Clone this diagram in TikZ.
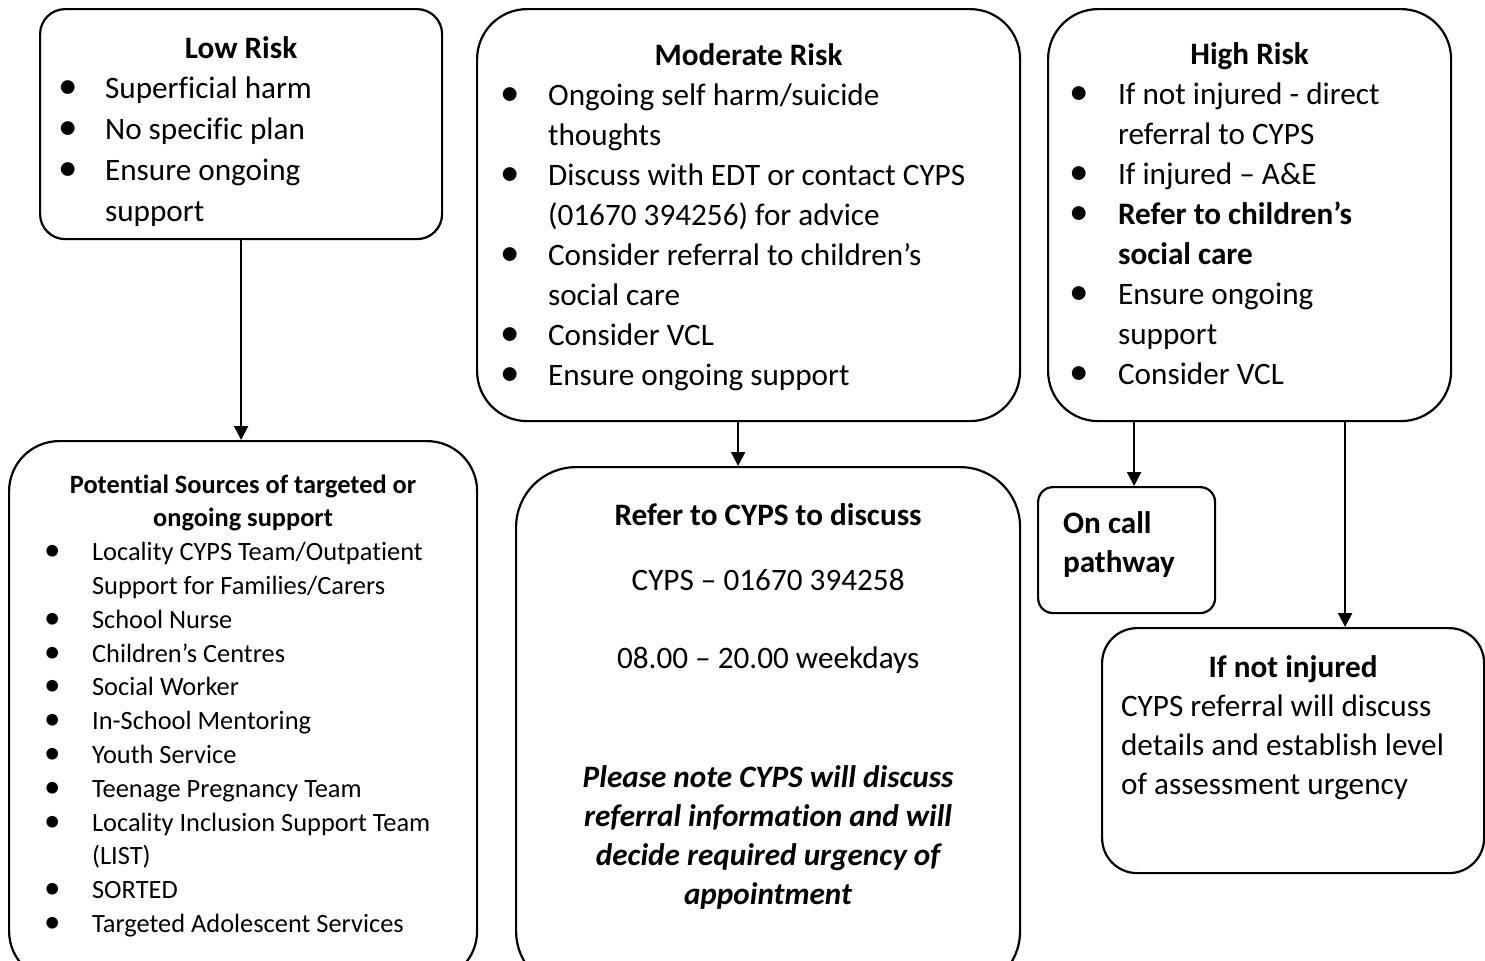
\documentclass[tikz,border=0pt]{standalone}
\usepackage{fontspec}
\setmainfont[Ligatures=NoCommon]{Carlito}
\usetikzlibrary{arrows.meta}

\newlength{\bulind}
\newcommand{\bulletmark}{\scalebox{1.25}{\textbullet}}
\newcommand{\bitem}[1]{\par\noindent\hangindent=\bulind\hangafter=1\makebox[\bulind][l]{\bulletmark}#1}
\newcommand{\boxbody}[4]{\begin{minipage}[t][#2][t]{#1}\raggedright\leftskip=#3\relax#4\end{minipage}}

\tikzset{
	riskbox/.style={draw, line width=1.1pt, rounded corners=#1, inner sep=0pt, anchor=north west},
	riskbox/.default=25pt,
	flowarrow/.style={line width=1.1pt, -{Triangle[length=7pt,width=7pt]}}
}

\begin{document}
\begin{tikzpicture}[x=0.5pt, y=-0.5pt, font=\fontsize{15.6}{20}\selectfont]
		\useasboundingbox (0,0) rectangle (1485,960);
		\clip (0,0) rectangle (1485,960);
		\coordinate (low)  at (39,   8);
		\coordinate (mod)  at (476,  8);
		\coordinate (high) at (1047, 8);
		\coordinate (src)  at (8,    440);
		\coordinate (ref)  at (515,  466);
		\coordinate (onc)  at (1037, 486);
		\coordinate (inj)  at (1101, 627);

		\node[riskbox=12.5pt] (LOW) at (low) {\boxbody{201pt}{115pt}{9pt}{\fontsize{15.6}{20.4}\selectfont\setlength{\bulind}{23.5pt}%
			{\centering\bfseries\rule{0pt}{24.5pt}Low Risk\par}%
			\bitem{Superficial harm}%
			\bitem{No specific plan}%
			\bitem{Ensure ongoing\newline support}}};
		\node[riskbox] (MOD) at (mod) {\boxbody{271.5pt}{206pt}{11.5pt}{\setlength{\bulind}{24pt}%
			{\centering\bfseries\rule{0pt}{28pt}Moderate Risk\par}%
			\bitem{Ongoing self harm/suicide\newline thoughts}%
			\bitem{Discuss with EDT or contact CYPS\newline (01670 394256) for advice}%
			\bitem{Consider referral to children’s\newline social care}%
			\bitem{Consider VCL}%
			\bitem{Ensure ongoing support}}};
		\node[riskbox] (HIGH) at (high) {\boxbody{201.5pt}{206pt}{10.5pt}{\setlength{\bulind}{24.5pt}%
			{\centering\bfseries\rule{0pt}{27.5pt}High Risk\par}%
			\bitem{If not injured - direct\newline referral to CYPS}%
			\bitem{If injured – A\&E}%
			\bitem{\textbf{Refer to children’s\newline social care}}%
			\bitem{Ensure ongoing\newline support}%
			\bitem{Consider VCL}}};
		\node[riskbox] (SRC) at (src) {\boxbody{234pt}{270pt}{17.5pt}{\fontsize{13.2}{16.9}\selectfont\setlength{\bulind}{24pt}%
			{\centering\bfseries\rule{0pt}{26pt}Potential Sources of targeted or\\ongoing support\par}%
			\bitem{Locality CYPS Team/Outpatient\newline Support for Families/Carers}%
			\bitem{School Nurse}%
			\bitem{Children’s Centres}%
			\bitem{Social Worker}%
			\bitem{In-School Mentoring}%
			\bitem{Youth Service}%
			\bitem{Teenage Pregnancy Team}%
			\bitem{Locality Inclusion Support Team\newline (LIST)}%
			\bitem{SORTED}%
			\bitem{Targeted Adolescent Services}}};
		\node[riskbox=30pt] (REF) at (ref) {\boxbody{252pt}{262pt}{0pt}{\fontsize{15.6}{19.5}\selectfont%
			{\centering\rule{0pt}{29pt}\textbf{Refer to CYPS to discuss}\\[13pt]
			CYPS – 01670 394258\\[19.5pt]
			08.00 – 20.00 weekdays\\[40pt]
			\textbf{\textit{Please note CYPS will discuss\\referral information and will\\decide required urgency of\\appointment}}\par}}};
		\node[riskbox=7.5pt] (ONC) at (onc) {\boxbody{88.5pt}{63pt}{12.5pt}{\fontsize{15.6}{19.5}\selectfont\bfseries%
			\rule{0pt}{23pt}On call\\pathway}};
		\node[riskbox=17.5pt] (INJ) at (inj) {\boxbody{191pt}{122.5pt}{9.5pt}{\fontsize{15.6}{19.5}\selectfont%
			{\centering\bfseries\rule{0pt}{24.5pt}If not injured\hspace{5pt}\par}%
			CYPS referral will discuss\\details and establish level\\of assessment urgency}};

		\coordinate (modout) at ([xshift=-5.25pt]MOD.south);
		\coordinate (oncin)  at ([xshift=3.75pt]ONC.north);
		\coordinate (injin)  at ([xshift=26pt]INJ.north);

		\draw[flowarrow] (LOW.south) -- (LOW.south |- SRC.north);
		\draw[flowarrow] (modout) -- (modout |- REF.north);
		\draw[flowarrow] (oncin |- HIGH.south) -- (oncin);
		\draw[flowarrow] (injin |- HIGH.south) -- (injin);
\end{tikzpicture}
\end{document}
